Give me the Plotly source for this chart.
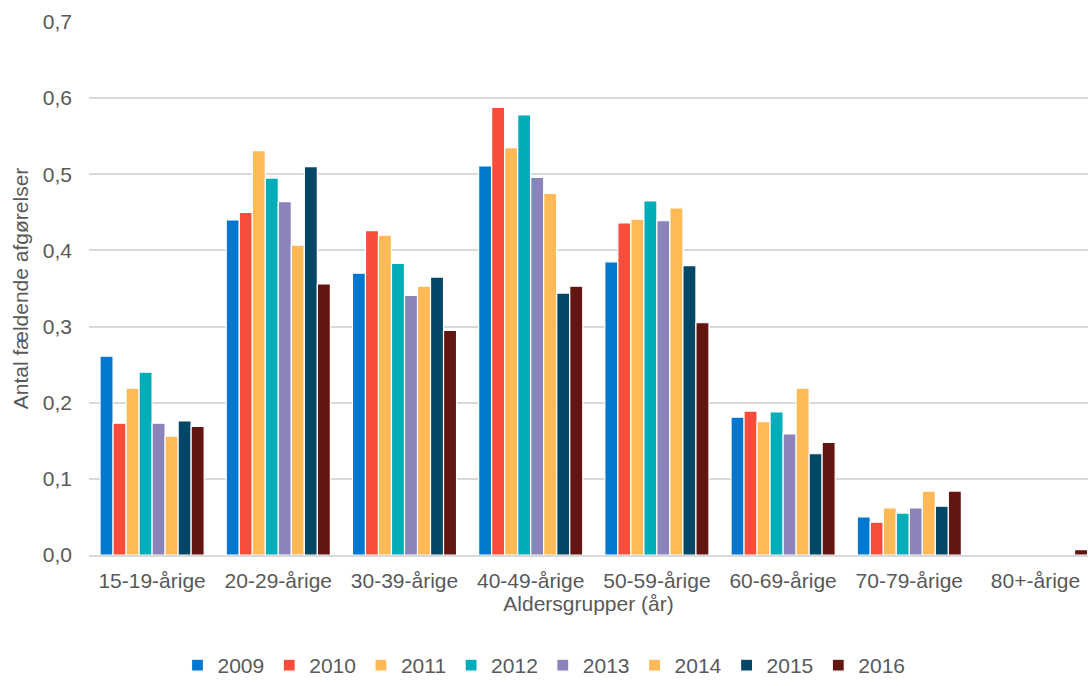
import plotly.graph_objects as go

# Age groups on the x axis
age_groups = ["15-19-årige", "20-29-årige", "30-39-årige", "40-49-årige",
              "50-59-årige", "60-69-årige", "70-79-årige", "80+-årige"]

years = ["2009", "2010", "2011", "2012", "2013", "2014", "2015", "2016"]

# Number of decisions per age group, one list per year
v2009 = [0.261, 0.440, 0.370, 0.511, 0.385, 0.181, 0.050, 0.0]
v2010 = [0.173, 0.450, 0.426, 0.588, 0.436, 0.189, 0.043, 0.0]
v2011 = [0.219, 0.531, 0.420, 0.535, 0.441, 0.175, 0.062, 0.0]
v2012 = [0.240, 0.495, 0.383, 0.578, 0.465, 0.188, 0.055, 0.0]
v2013 = [0.173, 0.464, 0.341, 0.496, 0.439, 0.159, 0.062, 0.0]
v2014 = [0.156, 0.407, 0.353, 0.475, 0.456, 0.219, 0.084, 0.0]
v2015 = [0.176, 0.510, 0.365, 0.344, 0.380, 0.133, 0.064, 0.0]
v2016 = [0.169, 0.356, 0.295, 0.353, 0.305, 0.148, 0.084, 0.007]

series = [v2009, v2010, v2011, v2012, v2013, v2014, v2015, v2016]
colors = ["#0078D0", "#F94D3C", "#FFB957", "#00ADB8",
          "#8A84BA", "#FFB957", "#024866", "#631511"]

y_ticks = [0.0, 0.1, 0.2, 0.3, 0.4, 0.5, 0.6, 0.7]

FONT = "Liberation Sans, Arial, sans-serif"
TEXT = "#595959"
GRID = "#D9D9D9"
FS = 21

fig = go.Figure()
for year, vals, col in zip(years, series, colors):
    fig.add_trace(go.Bar(
        x=list(range(len(age_groups))), y=vals, name=year,
        marker=dict(color=col, line=dict(color="white", width=1.2)),
    ))

fig.update_layout(
    width=1088, height=686,
    margin=dict(l=89, r=0, t=22, b=131),
    paper_bgcolor="white", plot_bgcolor="white",
    barmode="group", bargap=0.175, bargroupgap=0.0,
    separators=", ",
    font=dict(family=FONT, size=FS, color=TEXT),
    showlegend=True,
    legend=dict(
        orientation="h", xref="container", yref="container",
        x=0.5, xanchor="center", y=-0.01, yanchor="bottom",
        font=dict(size=FS, color=TEXT),
        itemwidth=30, tracegroupgap=0,
    ),
    xaxis=dict(
        tickmode="array", tickvals=list(range(len(age_groups))),
        ticktext=age_groups, range=[-0.5, 7.416],
        showgrid=False, zeroline=False,
        showline=True, linecolor=GRID, linewidth=1.5,
        ticks="", ticklabelstandoff=6,
        title=dict(text="Aldersgrupper (år)", standoff=2,
                   font=dict(size=FS, color=TEXT)),
    ),
    yaxis=dict(
        range=[0, 0.7], tickvals=y_ticks, tickformat=".1f",
        showgrid=True, gridcolor=GRID, gridwidth=1.5,
        zeroline=False, showline=False, ticks="",
        ticklabelstandoff=16,
        title=dict(text="Antal fældende afgørelser", standoff=8,
                   font=dict(size=FS, color=TEXT)),
    ),
)

fig.write_html("out.html")
